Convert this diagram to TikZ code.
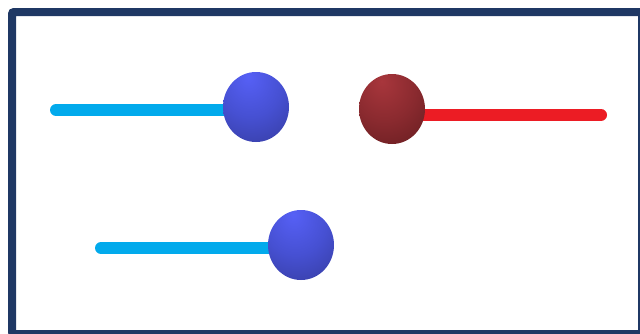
\documentclass[tikz,border=0pt]{standalone}
\usepackage{xcolor}
\usepackage{tikz}
\usetikzlibrary{shapes.geometric, backgrounds}

\definecolor{framenavy}{HTML}{1F3864}
\definecolor{rodblue}{HTML}{02AAEC}
\definecolor{rodred}{HTML}{EC1C24}
\definecolor{blueknoblight}{HTML}{5660F6}
\definecolor{blueknobmid}{HTML}{4650D2}
\definecolor{blueknobdark}{HTML}{2E338A}
\definecolor{redknoblight}{HTML}{A8363C}
\definecolor{redknobmid}{HTML}{8A2A2F}
\definecolor{redknobdark}{HTML}{561719}

\pgfdeclareradialshading{knobblue}{\pgfpoint{-6bp}{22bp}}{%
  color(0bp)=(blueknoblight); color(24bp)=(blueknobmid); color(58bp)=(blueknobdark); color(100bp)=(blueknobdark)}
\pgfdeclareradialshading{knobred}{\pgfpoint{-8bp}{20bp}}{%
  color(0bp)=(redknoblight); color(24bp)=(redknobmid); color(58bp)=(redknobdark); color(100bp)=(redknobdark)}

\begin{document}
\begin{tikzpicture}[
    x=1pt, y=-1pt,
    rod/.style={line width=12pt, line cap=round},
    knob/.style={ellipse, inner sep=0pt, minimum width=66pt, minimum height=70pt},
    blueknob/.style={knob, shading=knobblue},
    redknob/.style={knob, shading=knobred}
]
\useasboundingbox (0,0) rectangle (640,333);
\draw[framenavy, line width=8pt, rounded corners=2pt] (12,12) rectangle (642,334);

% knobs
\node[blueknob] (knobA) at (256,107) {};
\node[redknob] (knobB) at (392,109) {};
\node[blueknob] (knobC) at (301,245) {};

% free ends of the rods
\coordinate (endA) at (56,110);
\coordinate (endB) at (601,115);
\coordinate (endC) at (101,248);

\begin{scope}[on background layer]
\draw[rod, rodblue] (endA) -- (endA -| knobA);
\draw[rod, rodred] (endB) -- (endB -| knobB);
\draw[rod, rodblue] (endC) -- (endC -| knobC);
\end{scope}
\end{tikzpicture}
\end{document}
